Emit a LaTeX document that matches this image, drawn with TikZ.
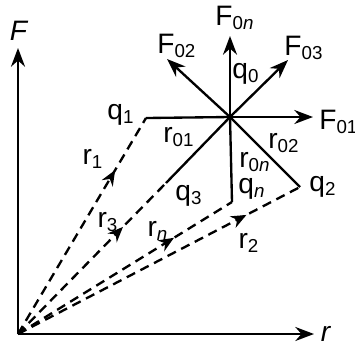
\documentclass[tikz,border=0pt]{standalone}
\usepackage{fontspec}
\setmainfont{Liberation Sans}
\usetikzlibrary{arrows.meta, decorations.markings}

\tikzset{
    vec/.style={line width=1pt, -{Stealth[length=2.8mm, width=2.1mm]}},
    pos/.style={line width=1pt, dash pattern=on 1.4mm off 0.9mm,
        postaction={decorate, decoration={markings,
        mark=at position #1 with {\arrow{Stealth[length=2.3mm, width=1.9mm]}}}}},
    lbl/.style={font=\fontsize{12}{14}\selectfont, inner sep=0pt},
}
\newcommand{\subs}[1]{\textsubscript{#1}}

\begin{document}
\begin{tikzpicture}[x=0.15mm, y=-0.15mm]

    \useasboundingbox (0,0) rectangle (355,347);

    % --- Points ---
    \coordinate (O)  at (18,334);
    \coordinate (q0) at (230,117);
    \coordinate (q1) at (146,118);
    \coordinate (q2) at (300,187);
    \coordinate (q3) at (166,183);
    \coordinate (qn) at (232,202);

    % --- Axes ---
    \coordinate (Ftip) at (18,48);
    \coordinate (rtip) at (314,334);
    \draw[vec] (O) -- (Ftip);
    \draw[vec] (O) -- (rtip);
    \node[lbl] (Flab) at (19,31) {\textit{F}};
    \node[lbl] (rlab) at (326,334) {\textit{r}};

    % --- Forces on q0 ---
    \coordinate (F0n) at (230,36);
    \coordinate (F01) at (313,117);
    \coordinate (F02) at (167,59);
    \coordinate (F03) at (288,60);
    \draw[vec] (q0) -- (F0n);
    \draw[vec] (q0) -- (F01);
    \draw[vec] (q0) -- (F02);
    \draw[vec] (q0) -- (F03);
    \fill (q0) circle (2.5);

    \node[lbl] (F0nlab) at (235,18) {F\subs{0\textit{n}}};
    \node[lbl] (F01lab) at (339,122) {F\subs{01}};
    \node[lbl] (F02lab) at (177,46) {F\subs{02}};
    \node[lbl] (F03lab) at (304,48) {F\subs{03}};
    \node[lbl] (q0lab) at (246,74) {q\subs{0}};

    % --- Separations from q0 ---
    \draw[line width=1pt] (q1) -- (q0);
    \draw[line width=1pt] (q2) -- (q0);
    \draw[line width=1pt] (q3) -- (q0);
    \draw[line width=1pt] (qn) -- (q0);

    \node[lbl] (r01lab) at (179,137) {r\subs{01}};
    \node[lbl] (r02lab) at (284,143) {r\subs{02}};
    \node[lbl] (r0nlab) at (255,162) {r\subs{0\textit{n}}};

    % --- Position vectors ---
    \draw[pos=0.76] (O) -- (q1);
    \draw[pos=0.71] (O) -- (q3);
    \draw[pos=0.73] (O) -- (qn);
    \draw[pos=0.81] (O) -- (q2);

    \node[lbl] (q1lab) at (121,115) {q\subs{1}};
    \node[lbl] (q2lab) at (323,187) {q\subs{2}};
    \node[lbl] (q3lab) at (189,196) {q\subs{3}};
    \node[lbl] (qnlab) at (252,189) {q\subs{\textit{n}}};

    \node[lbl] (r1lab) at (93,159) {r\subs{1}};
    \node[lbl] (r2lab) at (249,243) {r\subs{2}};
    \node[lbl] (r3lab) at (108,222) {r\subs{3}};
    \node[lbl] (rnlab) at (158,231) {r\subs{\textit{n}}};

\end{tikzpicture}
\end{document}
